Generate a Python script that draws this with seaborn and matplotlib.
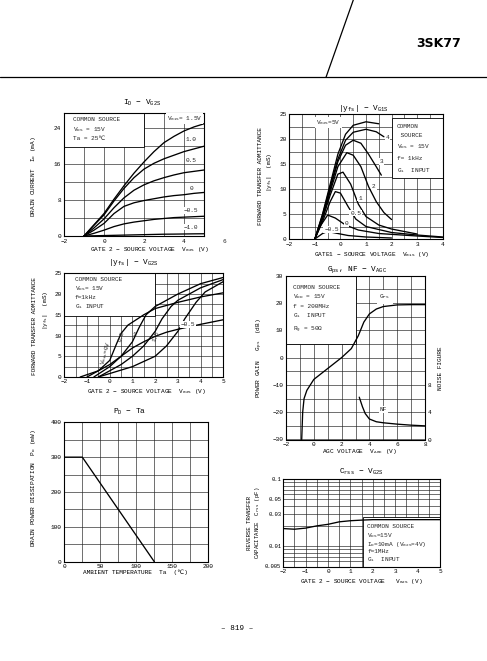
import matplotlib
matplotlib.use("Agg")
import matplotlib.pyplot as plt
import seaborn as sns
from matplotlib.patches import Rectangle
from matplotlib.lines import Line2D
from matplotlib.ticker import NullFormatter

# ---------------- data ----------------
# Panel 1: ID - VG2S (curves for VG1S)
id_x = [-1, -0.5, 0, 0.5, 1, 1.5, 2, 2.5, 3, 3.5, 4, 4.5, 5]
id_15 = [0, 2.5, 5.0, 8.2, 11.2, 14.0, 16.5, 18.8, 20.8, 22.2, 23.4, 24.3, 25.0]
id_10 = [0, 2.4, 4.7, 7.8, 10.6, 13.0, 14.9, 16.2, 17.2, 18.0, 18.8, 19.4, 20.0]
id_05 = [0, 1.8, 3.8, 6.3, 8.5, 10.2, 11.4, 12.3, 13.0, 13.6, 14.1, 14.4, 14.7]
id_00 = [0, 1.3, 2.8, 5.0, 6.6, 7.4, 7.9, 8.3, 8.7, 9.0, 9.2, 9.5, 9.7]
id_m05 = [0, 0.6, 1.3, 2.1, 2.7, 3.1, 3.4, 3.7, 3.9, 4.1, 4.2, 4.3, 4.4]
id_m10 = [0, 0.05, 0.1, 0.15, 0.2, 0.25, 0.3, 0.35, 0.4, 0.42, 0.45, 0.48, 0.5]
id_labels = ["1.0", "0.5", "0", "\u22120.5", "\u22121.0"]
id_label_y = [21.5, 16.8, 10.6, 5.7, 2.0]

# Panel 2: |yfs| - VG1S (curves for VG2S)
y1_5_x = [-1, -0.7, -0.4, -0.1, 0.2, 0.5, 1.0, 1.5]
y1_5_y = [0, 5, 11, 17, 21, 22.8, 23.5, 23.1]
y1_4_x = [-1, -0.7, -0.4, -0.1, 0.2, 0.5, 1.0, 1.4, 1.7]
y1_4_y = [0, 4.8, 10.5, 16, 19.8, 21.4, 22, 21.5, 20.5]
y1_3_x = [-1, -0.7, -0.4, -0.1, 0.2, 0.5, 0.8, 1.1, 1.4, 1.6]
y1_3_y = [0, 4.5, 10, 15.5, 18.8, 19.8, 19.2, 17, 14.5, 12.8]
y1_2_x = [-1, -0.7, -0.4, -0.1, 0.25, 0.5, 0.8, 1.1, 1.4, 1.7, 2.0]
y1_2_y = [0, 4.3, 9.5, 14.5, 17.3, 16.8, 14.5, 10.5, 7.5, 5.3, 3.9]
y1_1_x = [-1, -0.7, -0.4, -0.1, 0.1, 0.4, 0.7, 1.0, 1.5, 2.0, 3.0]
y1_1_y = [0, 4, 8.8, 13, 13.4, 11, 7, 4.5, 2.8, 2.0, 1.0]
y1_05_x = [-1, -0.7, -0.4, -0.2, 0.0, 0.3, 0.6, 1.0, 2.0, 3.0, 4.0]
y1_05_y = [0, 3.5, 7.5, 9.5, 9.2, 6.5, 4.0, 2.5, 1.3, 0.8, 0.4]
y1_0_x = [-1, -0.8, -0.5, -0.2, 0.2, 0.7, 1.5, 3.0, 4.0]
y1_0_y = [0, 2.5, 4.8, 4.2, 2.8, 1.8, 1.1, 0.6, 0.3]
y1_m05_x = [-1, -0.7, -0.5, -0.2, 0.3, 1.0, 2.0]
y1_m05_y = [0, 1.1, 1.5, 1.2, 0.7, 0.4, 0.2]

# Panel 3: |yfs| - VG2S (curves for VG1S)
y2_0_x = [-1, -0.5, 0, 0.3, 0.5, 0.8, 1.5, 2, 3, 4, 5]
y2_0_y = [0, 1.5, 4, 8, 10.5, 12.5, 15, 16.5, 18, 19.3, 20.3]
y2_05_x = [-0.7, 0, 0.5, 1.0, 1.3, 1.6, 2, 3, 4, 5]
y2_05_y = [0, 2.5, 5, 8.5, 12, 15, 17, 20, 22.5, 24]
y2_1_x = [-0.5, 0.5, 1.0, 1.5, 2.0, 2.3, 2.7, 3, 4, 5]
y2_1_y = [0, 3, 5, 7.5, 11, 14, 17, 18.5, 21.5, 23.5]
y2_15_x = [-0.5, 1.0, 2.0, 2.5, 3.0, 3.3, 3.8, 4.2, 5]
y2_15_y = [0, 2.5, 5, 7.5, 11, 14, 18, 20.5, 23]
y2_m05_x = [-1.3, -0.5, 0, 0.5, 1, 1.5, 2, 2.5, 3, 4, 5]
y2_m05_y = [0, 1.5, 3, 5, 7, 8.5, 9.8, 10.8, 11.5, 12.7, 13.8]

# Panel 4: Gps, NF - VAGC
gps_x = [-0.87, -0.8, -0.7, -0.5, 0, 1, 2, 2.7, 3.2, 3.6, 4, 4.5, 5, 6, 7, 8]
gps_y = [-30, -20, -15, -12, -8, -4, 0, 3.3, 8, 13, 16, 17.8, 18.7, 19.3, 19.4, 19.4]
nf_x = [3.27, 3.5, 3.7, 4.0, 4.5, 5, 6, 7, 8]
nf_y = [6.2, 4.8, 3.8, 3.0, 2.6, 2.45, 2.25, 2.1, 2.0]

# Panel 5: PD - Ta
pd_x = [0, 25, 125]
pd_y = [300, 300, 0]

# Panel 6: Crss - VG2S
crss_x = [-2, -1.5, -1, -0.5, 0, 0.5, 1, 1.5, 2, 3, 4, 5]
crss_y = [0.0184, 0.018, 0.0187, 0.0202, 0.0213, 0.0232, 0.0241, 0.0246, 0.025, 0.025, 0.025, 0.025]

# ---------------- figure ----------------
sns.set_theme(style="white")
plt.rcParams["font.family"] = ["Liberation Mono", "DejaVu Sans Mono", "DejaVu Sans"]
plt.rcParams["mathtext.fontset"] = "custom"
plt.rcParams["mathtext.rm"] = "Liberation Mono"
plt.rcParams["mathtext.it"] = "Liberation Mono"

W, H = 487, 661
fig = plt.figure(figsize=(W / 100, H / 100), dpi=100)
fig.patch.set_facecolor("white")

FS = 4.4
TFS = 5.6
CURVE_LW = 0.95


def px_axes(l, r, t, b):
    return fig.add_axes([l / W, 1 - b / H, (r - l) / W, (b - t) / H])


def ftext(x, y, s, **kw):
    kw.setdefault("fontsize", FS)
    kw.setdefault("ha", "center")
    kw.setdefault("va", "center")
    kw.setdefault("color", "black")
    fig.text(x / W, 1 - y / H, s, **kw)


def style(ax, xlim, ylim, xgrid, ygrid, xticks, yticks):
    ax.set_xlim(*xlim)
    ax.set_ylim(*ylim)
    ax.set_xticks(xticks)
    ax.set_yticks(yticks)
    ax.set_xticks(xgrid, minor=True)
    ax.set_yticks(ygrid, minor=True)
    ax.grid(True, which="both", color="0.12", lw=0.45)
    ax.set_axisbelow(True)
    ax.tick_params(which="both", length=0, labelsize=FS, pad=2, colors="black")
    for sp in ax.spines.values():
        sp.set_visible(True)
        sp.set_color("black")
        sp.set_linewidth(0.8)
    ax.set_facecolor("white")


def curve(ax, xs, ys):
    sns.lineplot(x=xs, y=ys, ax=ax, color="black", lw=CURVE_LW, sort=False,
                 estimator=None, zorder=3)


def box(ax, x0, y0, x1, y1, edge=True):
    ax.add_patch(Rectangle((x0, y0), x1 - x0, y1 - y0, facecolor="white",
                           edgecolor="black" if edge else "white",
                           lw=0.6 if edge else 0, zorder=2))


def frange(a, b, s):
    out = []
    v = a
    while v <= b + 1e-9:
        out.append(round(v, 6))
        v += s
    return out


wbox = dict(facecolor="white", edgecolor="none", pad=0.6)

# ---- Panel 1: ID - VG2S ----
ax1 = px_axes(64, 204, 113, 236)
style(ax1, (-2, 5), (0, 27.4), frange(-2, 5, 1), frange(0, 24, 4),
      [-2, 0, 2, 4], [0, 8, 16, 24])
ax1.set_xticklabels(["\u22122", "0", "2", "4"])
ax1.text(6, -0.6, "6", fontsize=FS, ha="center", va="top", clip_on=False)
box(ax1, -2, 19.8, 2, 27.4)
ax1.text(-1.55, 26.0, "COMMON SOURCE", fontsize=FS, va="center", zorder=4)
ax1.text(-1.55, 23.8, r"$\mathrm{V_{DS}}$ = 15V", fontsize=FS, va="center", zorder=4)
ax1.text(-1.55, 21.8, "Ta = 25\u2103", fontsize=FS, va="center", zorder=4,
         family=["Liberation Mono", "DejaVu Sans"])
for ys in [id_15, id_10, id_05, id_00, id_m05, id_m10]:
    curve(ax1, id_x, ys)
ax1.text(3.15, 26.2, r"$\mathrm{V_{G1S}}$= 1.5V", fontsize=FS, va="center",
         zorder=4, bbox=wbox)
for lab, yy in zip(id_labels, id_label_y):
    ax1.text(4.35, yy, lab, fontsize=FS, ha="center", va="center", zorder=4, bbox=wbox)
ftext(141.7, 103.3, r"$\mathrm{I_D}$ $-$ $\mathrm{V_{G2S}}$", fontsize=TFS)
ftext(150, 249.5, r"GATE 2 $-$ SOURCE VOLTAGE  $\mathrm{V_{G2S}}$ (V)")
ftext(33, 177, r"DRAIN CURRENT  $\mathrm{I_D}$ (mA)", rotation=90)

# ---- Panel 2: |yfs| - VG1S ----
ax2 = px_axes(289.3, 442.7, 114.3, 239)
style(ax2, (-2, 4), (0, 25), frange(-2, 4, 0.5), frange(0, 25, 2.5),
      frange(-2, 4, 1), frange(0, 25, 5))
ax2.set_xticklabels(["\u22122", "\u22121", "0", "1", "2", "3", "4"])
box(ax2, 2, 12.2, 4, 24.2)
for i, s in enumerate(["COMMON", " SOURCE", r"$\mathrm{V_{DS}}$ = 15V", "f= 1kHz",
                       r"$\mathrm{G_1}$  INPUT"]):
    ax2.text(2.2, [22.5, 20.8, 18.5, 16.1, 13.8][i], s, fontsize=FS, va="center", zorder=4)
for xs, ys in [(y1_5_x, y1_5_y), (y1_4_x, y1_4_y), (y1_3_x, y1_3_y),
               (y1_2_x, y1_2_y), (y1_1_x, y1_1_y), (y1_05_x, y1_05_y),
               (y1_0_x, y1_0_y), (y1_m05_x, y1_m05_y)]:
    curve(ax2, xs, ys)
ax2.text(-0.95, 23.4, r"$\mathrm{V_{G2S}}$=5V", fontsize=FS, va="center", zorder=4, bbox=wbox)
for lab, xx, yy in [("4", 1.85, 20.4), ("3", 1.61, 15.5), ("2", 1.31, 10.5),
                    ("1", 0.77, 8.2), ("0.5", 0.6, 5.2), ("0", 0.24, 3.1),
                    ("\u22120.5", -0.35, 1.9)]:
    ax2.text(xx, yy, lab, fontsize=FS, ha="center", va="center", zorder=4, bbox=wbox)
ftext(363.3, 108.3, r"$\mathrm{|y_{fs}|}$ $-$ $\mathrm{V_{G1S}}$", fontsize=TFS)
ftext(371.7, 254.3, r"GATE1 $-$ SOURCE VOLTAGE  $\mathrm{V_{G1S}}$ (V)")
ftext(260, 176, "FORWARD TRANSFER ADMITTANCE", rotation=90)
ftext(270, 172, r"$\mathrm{|y_{fs}|}$  (mS)", rotation=90)

# ---- Panel 3: |yfs| - VG2S ----
ax3 = px_axes(64.3, 223.3, 273.3, 377)
style(ax3, (-2, 5), (0, 25), frange(-2, 5, 0.5), frange(0, 25, 2.5),
      frange(-2, 5, 1), frange(0, 25, 5))
ax3.set_xticklabels(["\u22122", "\u22121", "0", "1", "2", "3", "4", "5"])
ax3.tick_params(axis="x", pad=1.5)
box(ax3, -2, 14.7, 2, 25)
for s, yy in zip(["COMMON SOURCE", r"$\mathrm{V_{DS}}$= 15V", "f=1kHz",
                  r"$\mathrm{G_1}$ INPUT"], [23.6, 21.3, 19.2, 17.0]):
    ax3.text(-1.55, yy, s, fontsize=FS, va="center", zorder=4)
for xs, ys in [(y2_0_x, y2_0_y), (y2_05_x, y2_05_y), (y2_1_x, y2_1_y),
               (y2_15_x, y2_15_y), (y2_m05_x, y2_m05_y)]:
    curve(ax3, xs, ys)
ax3.text(-0.15, 5.8, r"$\mathrm{V_{G1S}}$=0V", fontsize=FS, rotation=75, ha="center",
         va="center", zorder=4)
ax3.text(0.5, 9.8, "0.5", fontsize=FS, rotation=75, ha="center", va="center", zorder=4)
ax3.text(1.1, 10.2, "1", fontsize=FS, ha="center", va="center", zorder=4)
ax3.text(2.05, 9.8, "1.5", fontsize=FS, rotation=70, ha="center", va="center", zorder=4)
ax3.text(3.45, 12.6, "\u22120.5", fontsize=FS, ha="center", va="center", zorder=4, bbox=wbox)
ftext(133.3, 262, r"$\mathrm{|y_{fs}|}$ $-$ $\mathrm{V_{G2S}}$", fontsize=TFS)
ftext(146.7, 392, r"GATE 2 $-$ SOURCE VOLTAGE  $\mathrm{V_{G2S}}$ (V)")
ftext(34, 326, "FORWARD TRANSFER ADMITTANCE", rotation=90)
ftext(45, 310, r"$\mathrm{|y_{fs}|}$  (mS)", rotation=90)

# ---- Panel 4: Gps, NF - VAGC ----
ax4 = px_axes(286, 425, 275.7, 439.5)
style(ax4, (-2, 8), (-30, 30), frange(-2, 8, 1), frange(-30, 30, 5),
      frange(-2, 8, 2), frange(-30, 30, 10))
ax4.set_xticklabels(["\u22122", "0", "2", "4", "6", "8"])
ax4.set_yticklabels(["\u221230", "\u221220", "\u221210", "0", "10", "20", "30"])
box(ax4, -2, 5, 3, 30)
for s, yy in zip(["COMMON SOURCE", r"$\mathrm{V_{DD}}$ = 15V", "f = 200MHz",
                  r"$\mathrm{G_1}$  INPUT", r"$\mathrm{R_g}$ = 50$\Omega$"],
                 [25.6, 22.2, 18.6, 15.3, 10.1]):
    ax4.text(-1.5, yy, s, fontsize=FS, va="center", zorder=4)
curve(ax4, gps_x, gps_y)
ax4.text(5.1, 22.3, r"$\mathrm{G_{PS}}$", fontsize=FS, ha="center", va="center",
         zorder=4, bbox=dict(facecolor="white", edgecolor="none", pad=2))
ax4b = ax4.twinx()
ax4b.set_ylim(0, 24)
ax4b.grid(False)
ax4b.set_yticks([0, 4, 8])
ax4b.tick_params(length=0, labelsize=FS, pad=2, colors="black")
for sp in ax4b.spines.values():
    sp.set_visible(False)
curve(ax4b, nf_x, nf_y)
ax4.text(5.0, -18.9, "NF", fontsize=FS, ha="center", va="center", zorder=4, bbox=wbox)
ftext(356.7, 269.5, r"$\mathrm{G_{ps}}$, NF $-$ $\mathrm{V_{AGC}}$", fontsize=TFS)
ftext(360, 451, r"AGC VOLTAGE  $\mathrm{V_{AGC}}$ (V)")
ftext(260, 358, r"POWER GAIN   $\mathrm{G_{ps}}$  (dB)", rotation=90)
ftext(440, 368, "NOISE FIGURE", rotation=90)

# ---- Panel 5: PD - Ta ----
ax5 = px_axes(64.3, 208.3, 422.3, 561.7)
style(ax5, (0, 200), (0, 400), frange(0, 200, 25), frange(0, 400, 50),
      frange(0, 200, 50), frange(0, 400, 100))
curve(ax5, pd_x, pd_y)
ftext(130, 412.3, r"$\mathrm{P_D}$ $-$ Ta", fontsize=TFS)
ftext(135, 572.3, "AMBIENT TEMPERATURE  Ta  (\u2103)",
      family=["Liberation Mono", "DejaVu Sans"])
ftext(33.3, 488, r"DRAIN POWER DISSIPATION  $\mathrm{P_D}$ (mW)", rotation=90)

# ---- Panel 6: Crss - VG2S ----
ax6 = px_axes(283.3, 440, 479.3, 566.5)
ax6.set_yscale("log")
style(ax6, (-2, 5), (0.005, 0.1), frange(-2, 5, 0.5),
      [0.006, 0.007, 0.008, 0.009, 0.02, 0.04, 0.06, 0.07, 0.08, 0.09],
      frange(-2, 5, 1), [0.005, 0.01, 0.03, 0.05, 0.1])
ax6.set_yticklabels(["0.005", "0.01", "0.03", "0.05", "0.1"])
ax6.yaxis.set_minor_formatter(NullFormatter())
ax6.tick_params(axis="y", labelsize=4.0, pad=1.5)
ax6.set_xticklabels(["\u22122", "\u22121", "0", "1", "2", "3", "4", "5"])
box(ax6, 1.55, 0.005, 5, 0.0272)
curve(ax6, crss_x, crss_y)
for s, yy in zip(["COMMON SOURCE", r"$\mathrm{V_{DS}}$=15V",
                  r"$\mathrm{I_D}$=10mA ($\mathrm{V_{G2S}}$=4V)", "f=1MHz",
                  r"$\mathrm{G_1}$  INPUT"],
                 [0.0201, 0.0147, 0.0108, 0.0083, 0.0064]):
    ax6.text(1.75, yy, s, fontsize=FS, va="center", zorder=4)
ftext(361, 471.7, r"$\mathrm{C_{rss}}$ $-$ $\mathrm{V_{G2S}}$", fontsize=TFS)
ftext(361.7, 581.7, r"GATE 2 $-$ SOURCE VOLTAGE   $\mathrm{V_{G2S}}$ (V)")
ftext(250, 523, "REVERSE TRANSFER", rotation=90, fontsize=4.1)
ftext(257.5, 523, r"CAPACITANCE  $\mathrm{C_{rss}}$ (pF)", rotation=90, fontsize=4.1)

# ---- header / footer ----
fig.add_artist(Line2D([353.3 / W, 326 / W], [1, 1 - 77.3 / H], color="black", lw=0.9))
fig.add_artist(Line2D([0, 1], [1 - 77.3 / H, 1 - 77.3 / H], color="black", lw=0.9))
ftext(439, 43.5, "3SK77", fontsize=9.0, fontweight="bold",
      family=["Liberation Sans Narrow", "DejaVu Sans"])
ftext(237, 628, "\u2013 819 \u2013", fontsize=5.5)

fig.savefig("out.png", dpi=100, facecolor="white")
